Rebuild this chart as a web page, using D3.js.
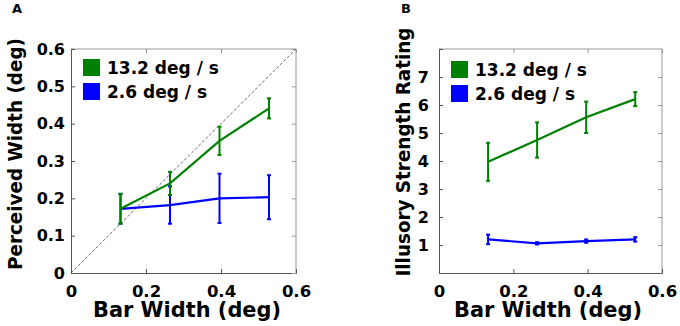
<!DOCTYPE html>
<html>
<head>
<meta charset="utf-8">
<script src="https://cdn.jsdelivr.net/npm/d3@7"></script>
<style>
  body { margin: 0; background: #fff; }
  svg text { font-family: "DejaVu Sans", Verdana, sans-serif; font-weight: bold; fill: #000; }
</style>
</head>
<body>
<div id="chart"></div>
<script>
// bar widths (deg), shared by both panels
const barWidth = [0.132, 0.264, 0.396, 0.528];

const seriesNames = ["13.2 deg / s", "2.6 deg / s"];
const seriesColors = ["#008000", "#0000ff"];

// panel A: perceived width (deg) and error half-range
const perceivedFast = [0.172, 0.240, 0.354, 0.441];
const perceivedFastErr = [0.040, 0.031, 0.038, 0.027];
const perceivedSlow = [0.172, 0.182, 0.200, 0.203];
const perceivedSlowErr = [0.040, 0.050, 0.066, 0.059];

// panel B: illusory strength rating and error half-range
const ratingFast = [3.97, 4.75, 5.56, 6.21];
const ratingFastErr = [0.68, 0.63, 0.56, 0.25];
const ratingSlow = [1.20, 1.06, 1.14, 1.20];
const ratingSlowErr = [0.17, 0.04, 0.06, 0.08];

const xTicks = [0, 0.2, 0.4, 0.6];
const yTicksA = [0, 0.1, 0.2, 0.3, 0.4, 0.5, 0.6];
const yTicksB = [1, 2, 3, 4, 5, 6, 7];

const svg = d3.select("#chart")
  .append("svg")
  .attr("width", 680)
  .attr("height", 326);

const panels = [
  {
    letter: "A", left: 71, top: 49, w: 225, h: 224,
    yDomain: [0, 0.6], yTicks: yTicksA, yFmt: d => d === 0 ? "0" : d3.format(".1f")(d),
    yLabel: "Perceived Width (deg)", yLabelX: 22, yLabelY: 154, yLabelLen: 232, yTickGap: 6,
    letterX: 17, legendY: 10, xTitleX: 187, diagonal: true,
    series: [
      {vals: perceivedFast, err: perceivedFastErr},
      {vals: perceivedSlow, err: perceivedSlowErr}
    ]
  },
  {
    letter: "B", left: 439, top: 49, w: 223, h: 224,
    yDomain: [0, 8], yTicks: yTicksB, yFmt: d3.format("d"),
    yLabel: "Illusory Strength Rating", yLabelX: 410, yLabelY: 152, yLabelLen: 249, yTickGap: 10,
    letterX: 406, legendY: 12, xTitleX: 548, diagonal: false,
    series: [
      {vals: ratingFast, err: ratingFastErr},
      {vals: ratingSlow, err: ratingSlowErr}
    ]
  }
];

panels.forEach(p => {
  const g = svg.append("g").attr("transform", `translate(${p.left},${p.top})`);

  const x = d3.scaleLinear().domain([0, 0.6]).range([0, p.w]);
  const y = d3.scaleLinear().domain(p.yDomain).range([p.h, 0]);

  // box (top/right lighter)
  g.append("line").attr("x1", 0).attr("x2", p.w).attr("y1", 0).attr("y2", 0)
    .attr("stroke", "#999").attr("stroke-width", 1);
  g.append("line").attr("x1", p.w).attr("x2", p.w).attr("y1", 0).attr("y2", p.h)
    .attr("stroke", "#999").attr("stroke-width", 1);

  // axes with inward ticks
  const xAxis = g.append("g").attr("transform", `translate(0,${p.h})`)
    .call(d3.axisBottom(x).tickValues(xTicks).tickSize(-4).tickPadding(12)
      .tickFormat(d => d === 0 ? "0" : d3.format(".1f")(d)));
  xAxis.select(".domain").attr("stroke", "#555");
  xAxis.selectAll(".tick line").attr("stroke", "#555");
  xAxis.selectAll("text").style("font-size", "16.5px").attr("fill", "#000");

  const topAxis = g.append("g")
    .call(d3.axisTop(x).tickValues(xTicks).tickSize(-4).tickFormat(""));
  topAxis.select(".domain").remove();
  topAxis.selectAll(".tick line").attr("stroke", "#999");

  const yAxis = g.append("g")
    .call(d3.axisLeft(y).tickValues(p.yTicks).tickSize(-4).tickPadding(p.yTickGap)
      .tickFormat(p.yFmt));
  yAxis.select(".domain").attr("stroke", "#555");
  yAxis.selectAll(".tick line").attr("stroke", "#555");
  yAxis.selectAll("text").style("font-size", "16px").attr("fill", "#000");

  const rightAxis = g.append("g").attr("transform", `translate(${p.w},0)`)
    .call(d3.axisRight(y).tickValues(p.yTicks).tickSize(-4).tickFormat(""));
  rightAxis.select(".domain").remove();
  rightAxis.selectAll(".tick line").attr("stroke", "#999");

  // unity line
  if (p.diagonal) {
    g.append("line")
      .attr("x1", x(0)).attr("y1", y(0))
      .attr("x2", x(0.6)).attr("y2", y(0.6))
      .attr("stroke", "#444").attr("stroke-width", 0.8)
      .attr("stroke-dasharray", "3,2");
  }

  // blue first so green sits on top where they overlap
  const order = [1, 0];
  order.forEach(i => {
    const s = p.series[i];
    const pts = barWidth.map((bw, k) => ({x: bw, y: s.vals[k], e: s.err[k]}));
    const col = seriesColors[i];

    g.append("path")
      .datum(pts)
      .attr("fill", "none")
      .attr("stroke", col)
      .attr("stroke-width", 2.2)
      .attr("d", d3.line().x(d => x(d.x)).y(d => y(d.y)));

    const eb = g.append("g").selectAll("g").data(pts).join("g");
    eb.append("line")
      .attr("x1", d => x(d.x)).attr("x2", d => x(d.x))
      .attr("y1", d => y(d.y - d.e)).attr("y2", d => y(d.y + d.e))
      .attr("stroke", col).attr("stroke-width", 2);
    eb.append("line")
      .attr("x1", d => x(d.x) - 2).attr("x2", d => x(d.x) + 2)
      .attr("y1", d => y(d.y + d.e)).attr("y2", d => y(d.y + d.e))
      .attr("stroke", col).attr("stroke-width", 2);
    eb.append("line")
      .attr("x1", d => x(d.x) - 2).attr("x2", d => x(d.x) + 2)
      .attr("y1", d => y(d.y - d.e)).attr("y2", d => y(d.y - d.e))
      .attr("stroke", col).attr("stroke-width", 2);
  });

  // legend
  const leg = g.append("g").attr("transform", `translate(12,${p.legendY})`);
  seriesNames.forEach((name, i) => {
    leg.append("rect")
      .attr("x", 0).attr("y", i * 24)
      .attr("width", 17).attr("height", 17)
      .attr("fill", seriesColors[i]);
    leg.append("text")
      .attr("x", 24).attr("y", i * 24 + 15)
      .style("font-size", "17px")
      .text(name);
  });

  // axis titles
  svg.append("text")
    .attr("x", p.xTitleX)
    .attr("y", 317)
    .attr("text-anchor", "middle")
    .attr("textLength", 188)
    .attr("lengthAdjust", "spacingAndGlyphs")
    .style("font-size", "21px")
    .text("Bar Width (deg)");

  svg.append("text")
    .attr("transform", `translate(${p.yLabelX},${p.yLabelY}) rotate(-90)`)
    .attr("text-anchor", "middle")
    .attr("textLength", p.yLabelLen)
    .attr("lengthAdjust", "spacingAndGlyphs")
    .style("font-size", "19px")
    .text(p.yLabel);

  // panel letter
  svg.append("text")
    .attr("x", p.letterX)
    .attr("y", 13)
    .attr("text-anchor", "middle")
    .style("font-size", "13px")
    .text(p.letter);
});
</script>
</body>
</html>
